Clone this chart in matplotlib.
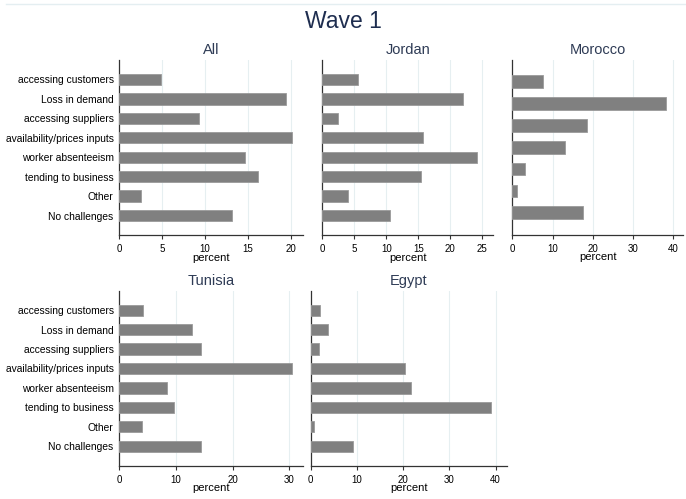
import matplotlib.pyplot as plt
import numpy as np

plt.rcParams['font.family'] = ['Liberation Sans', 'DejaVu Sans']

challenges = ['accessing customers', 'Loss in demand', 'accessing suppliers',
              'availability/prices inputs', 'worker absenteeism',
              'tending to business', 'Other', 'No challenges']

all_pct = [4.9, 19.45, 9.25, 20.1, 14.7, 16.1, 2.5, 13.1]
jordan_pct = [5.5, 22.0, 2.45, 15.8, 24.2, 15.4, 3.95, 10.6]
# no "Other" answers in Morocco, so that category is absent there
morocco_pct = [7.55, 38.1, 18.55, 13.2, 3.2, 1.1, 17.6]
tunisia_pct = [4.1, 12.8, 14.35, 30.5, 8.5, 9.7, 3.95, 14.5]
egypt_pct = [2.1, 3.7, 1.9, 20.3, 21.7, 38.9, 0.65, 9.2]

W, H = 686, 499
fig = plt.figure(figsize=(W / 100, H / 100), dpi=100)

def px_axes(left, right, top, bottom):
    return fig.add_axes([left / W, 1 - bottom / H, (right - left) / W, (bottom - top) / H])

panels = [
    ('All', all_pct, (119.3, 303, 60, 235), 21.4, 5, True),
    ('Jordan', jordan_pct, (322.3, 493.3, 60, 235), 26.7, 5, False),
    ('Morocco', morocco_pct, (512.3, 683.3, 60, 234.5), 42.5, 10, False),
    ('Tunisia', tunisia_pct, (119.3, 303.3, 290.7, 465.7), 32.5, 10, True),
    ('Egypt', egypt_pct, (310.7, 506.7, 290.7, 465.7), 42.4, 10, False),
]

for name, vals, box, xmax, step, labels in panels:
    ax = px_axes(*box)
    n = len(vals)
    pos = np.arange(1, n + 1)
    ax.barh(pos, vals, height=0.58, color='#808080', edgecolor='#9a9a9a',
            linewidth=0.6, zorder=3)
    ax.set_ylim(n + 1, 0)
    ax.set_xlim(0, xmax)
    ticks = np.arange(0, xmax, step)
    ax.set_xticks(ticks)
    ax.set_xticklabels([f'{t:g}' for t in ticks], fontsize=7)
    for t in ticks[1:]:
        ax.axvline(t, color='#e6eff1', linewidth=0.8, zorder=1)
    if labels:
        ax.set_yticks(pos)
        ax.set_yticklabels(challenges, fontsize=7.4)
    else:
        ax.set_yticks([])
    ax.tick_params(axis='y', length=0, pad=4)
    ax.tick_params(axis='x', length=3, width=0.8, color='#333333', pad=3.5)
    for s in ('top', 'right'):
        ax.spines[s].set_visible(False)
    for s in ('left', 'bottom'):
        ax.spines[s].set_color('#333333')
        ax.spines[s].set_linewidth(0.9)
    ax.set_title(name, fontsize=10.5, color='#2e3b55', pad=4)
    ax.set_xlabel('percent', fontsize=8, labelpad=-1)

fig.text(0.5, 1 - 21 / H, 'Wave 1', ha='center', va='center', fontsize=16.5, color='#1e2d4f')
fig.add_artist(plt.Line2D([6 / W, 685 / W], [1 - 4.3 / H] * 2, color='#e4eef1', linewidth=1))

fig.savefig('out.png', dpi=100)
